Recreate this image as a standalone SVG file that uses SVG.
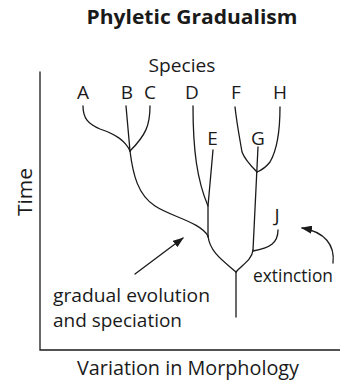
<svg xmlns="http://www.w3.org/2000/svg" width="340" height="381" viewBox="0 0 340 381">
<style>
.t{font-family:"Open Sans","DejaVu Sans",sans-serif;fill:#1a1a1a;font-size:19px}
.c{text-anchor:middle}
.ln{fill:none;stroke:#1a1a1a;stroke-width:1.3;stroke-linecap:round}
</style>
<defs>
<marker id="ah" markerUnits="userSpaceOnUse" markerWidth="11" markerHeight="8" refX="10" refY="4" orient="auto">
<path d="M0,0 L11,4 L0,8 z" fill="#1a1a1a"/>
</marker>
</defs>
<rect width="340" height="381" fill="#fff"/>
<text class="t c" x="192" y="24" style="font-weight:bold;font-size:19px" textLength="211" lengthAdjust="spacingAndGlyphs">Phyletic Gradualism</text>
<g id="axes">
<path class="ln" d="M40,72 L40,350 L340,350"/>
<text class="t c" transform="translate(32,192) rotate(-90)" style="font-size:20px" textLength="48" lengthAdjust="spacingAndGlyphs">Time</text>
<text class="t c" x="188" y="375" style="font-size:20px" textLength="222" lengthAdjust="spacingAndGlyphs">Variation in Morphology</text>
<text class="t c" x="182" y="72" textLength="67" lengthAdjust="spacingAndGlyphs">Species</text>
</g>
<g id="labels">
<text class="t c" x="83" y="99">A</text>
<text class="t c" x="127" y="99">B</text>
<text class="t c" x="150" y="99">C</text>
<text class="t c" x="192" y="99">D</text>
<text class="t c" x="236" y="99">F</text>
<text class="t c" x="280" y="99">H</text>
<text class="t c" x="212.5" y="145">E</text>
<text class="t c" x="258" y="145">G</text>
<text class="t c" x="277" y="222">J</text>
</g>
<g id="connectors">
<path class="ln" d="M83,106 C83,118 88,124 100,129 C115,134 125,140 130,151"/>
<path class="ln" d="M126,106 L130,151"/>
<path class="ln" d="M150,106 C150,125 146,135 130,151"/>
<path class="ln" d="M130,151 C133,175 138,195 155,206 C172,217 200,222 208,236"/>
<path class="ln" d="M193,106 C193,150 197,180 208,206"/>
<path class="ln" d="M213,150 L208,206 L208,237"/>
<path class="ln" d="M208,236 C210,252 222,260 236,272"/>
<path class="ln" d="M253,250 C252,260 242,265 236,272"/>
<path class="ln" d="M258,147 L253,250"/>
<path class="ln" d="M278,230 C278,243 270,248 253,251"/>
<path class="ln" d="M236,272 L236,317"/>
<path class="ln" d="M235,107 C237,125 240,140 242,152 C245,160 252,167 257,172"/>
<path class="ln" d="M280,107 C280,130 277,150 270,162 C266,167 262,170 257,172"/>
<path class="ln" d="M135,274 L183,238" marker-end="url(#ah)"/>
<path class="ln" d="M333,263 C335,245 325,232 302,228" marker-end="url(#ah)"/>
</g>
<g id="annotations">
<text class="t" x="253" y="282" textLength="80" lengthAdjust="spacingAndGlyphs">extinction</text>
<text class="t" x="53" y="302" textLength="157" lengthAdjust="spacingAndGlyphs">gradual evolution</text>
<text class="t" x="53" y="327" textLength="129" lengthAdjust="spacingAndGlyphs">and speciation</text>
</g>
</svg>
